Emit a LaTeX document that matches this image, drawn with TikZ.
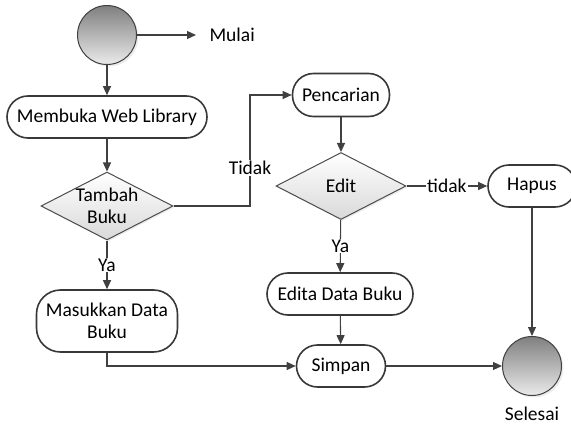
\documentclass[tikz,border=0pt]{standalone}
\usepackage{fontspec}
\setmainfont{Carlito}
\usetikzlibrary{arrows.meta,positioning,shapes.geometric,shadows}

\begin{document}
\begin{tikzpicture}[x=1pt,y=-1pt,
  every node/.style={font=\fontsize{19.5}{22}\selectfont},
  proses/.style={draw=black!78, line width=1.6pt, rounded corners=21pt, fill=white,
    minimum height=42pt, inner sep=0pt, align=center},
  keputusan/.style={draw=black!70, line width=1pt, diamond, inner sep=0pt,
    top color=white, bottom color=black!15,
    drop shadow={shadow xshift=1.5pt, shadow yshift=-1.5pt, opacity=0.15}},
  titik/.style={draw=black!75, circle, minimum size=59pt, line width=1pt,
    top color=black!50, bottom color=black!8,
    drop shadow={shadow xshift=2pt, shadow yshift=-2pt, opacity=0.15}},
  panah/.style={draw=black!75, line width=1.1pt, -{Triangle[length=9pt,width=8pt]}},
  ket/.style={fill=white, inner sep=1pt}]
  \useasboundingbox (0,0) rectangle (571,428);

  % Start and first steps
  \node[titik] (mulai) at (107,35) {};
  \node[right] (lblmulai) at (206,35) {Mulai};
  \node[proses, minimum width=200pt] (buka) at (107,117) {Membuka Web Library};
  \node[keputusan, minimum width=132pt, minimum height=68pt,
    label={[align=center]center:Tambah\\Buku}] (tambah) at (107,206) {};
  \node[proses, minimum width=141pt, minimum height=62pt, rounded corners=24pt] (masuk) at (107,321) {Masukkan Data\\Buku};

  % Edit branch
  \node[proses, minimum width=97pt, minimum height=43pt] (cari) at (341,95) {Pencarian};
  \node[keputusan, minimum width=130pt, minimum height=67pt,
    label=center:Edit] (edit) at (341,186) {};
  \node[proses, minimum width=88pt] (hapus) at (532,186) {Hapus};
  \node[proses, minimum width=146pt] (edita) at (340,294) {Edita Data Buku};
  \node[proses, minimum width=89pt] (simpan) at (341,366) {Simpan};

  % End
  \node[titik] (selesai) at (532,366) {};
  \node (lblselesai) at (532,414) {Selesai};

  \coordinate (belok) at (250,95);

  \draw[panah, shorten >=10pt] (mulai) -- (lblmulai);
  \draw[panah] (mulai) -- (buka);
  \draw[panah] (buka) -- (tambah);
  \draw[panah] (tambah) -- node[ket] {Ya} (masuk);
  \draw[panah] (tambah.east) -| (belok) -- (cari.west);
  \node[ket] (tidak1) at (250,168) {Tidak};
  \draw[panah] (cari) -- (edit);
  \draw[panah] (edit) -- node[ket] {tidak} (hapus);
  \draw[panah] (edit) -- node[ket] {Ya} (edita);
  \draw[panah] (hapus) -- (selesai);
  \draw[panah] (edita) -- (simpan);
  \draw[panah] (masuk.south) |- (simpan.west);
  \draw[panah] (simpan) -- (selesai);
\end{tikzpicture}
\end{document}
